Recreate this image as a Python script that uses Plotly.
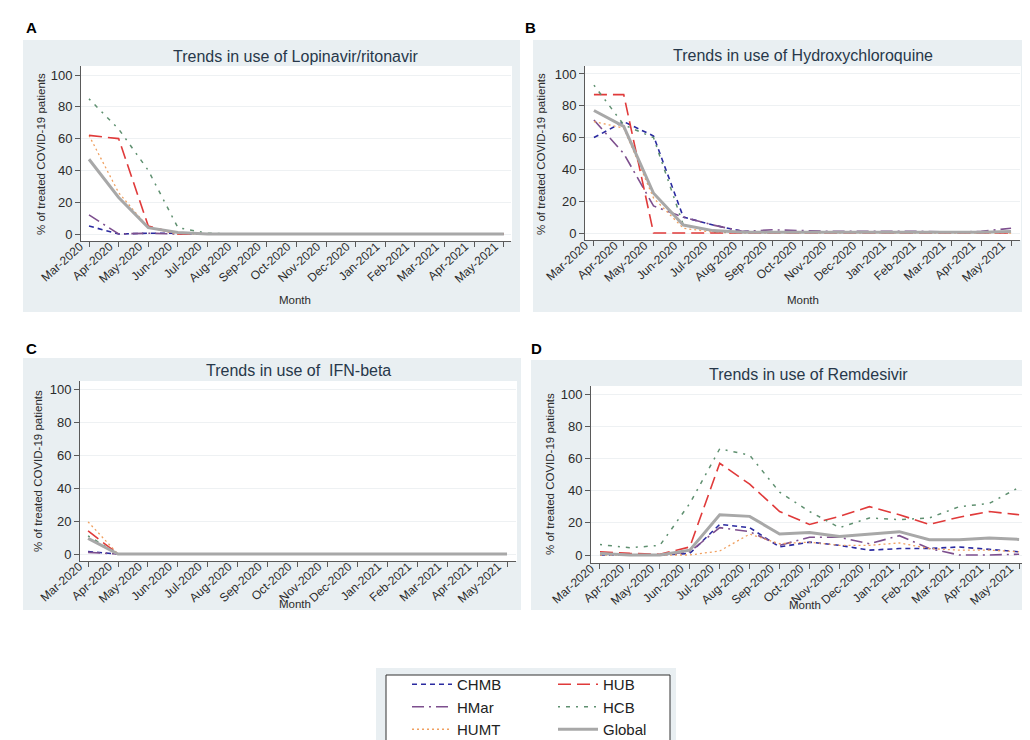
import plotly.graph_objects as go

W, H = 1030, 740

months = ["Mar-2020", "Apr-2020", "May-2020", "Jun-2020", "Jul-2020", "Aug-2020", "Sep-2020",
          "Oct-2020", "Nov-2020", "Dec-2020", "Jan-2021", "Feb-2021", "Mar-2021", "Apr-2021", "May-2021"]

series_names = ["CHMB", "HMar", "HUMT", "HUB", "HCB", "Global"]

# Panel A: Lopinavir/ritonavir
lop_chmb = [5, 0, 0.5, 0.5, 0, 0, 0, 0, 0, 0, 0, 0, 0, 0, 0]
lop_hmar = [12, 0, 0.5, 0, 0, 0, 0, 0, 0, 0, 0, 0, 0, 0, 0]
lop_humt = [62, 26, 4, 0, 0, 0, 0, 0, 0, 0, 0, 0, 0, 0, 0]
lop_hub = [62, 60, 5, 0, 0, 0, 0, 0, 0, 0, 0, 0, 0, 0, 0]
lop_hcb = [85, 66, 40, 4, 0.5, 0, 0, 0, 0, 0, 0, 0, 0, 0, 0]
lop_global = [47, 23, 4, 1, 0, 0, 0, 0, 0, 0, 0, 0, 0, 0, 0]

# Panel B: Hydroxychloroquine
hcq_chmb = [60, 70, 61, 10, 5, 1, 0.5, 0.5, 0.5, 0.5, 0.5, 0.5, 0.5, 0.5, 0.5]
hcq_hmar = [71, 50, 17, 10, 5, 1, 2, 1.5, 1, 1, 1, 1, 0.5, 1, 3]
hcq_humt = [70, 66, 22, 3, 0.5, 0, 0, 0, 0, 0, 0, 0, 0, 0, 0]
hcq_hub = [87, 87, 0, 0, 0, 0, 0, 0, 0, 0, 0, 0, 0, 0, 0]
hcq_hcb = [93, 68, 60, 5, 1, 0.5, 0.5, 0.5, 0.5, 0.5, 0.5, 0.5, 0.5, 0.5, 0.5]
hcq_global = [77, 67, 25, 5, 1.5, 0.5, 0.5, 0.5, 0.5, 0.5, 0.5, 0.5, 0.5, 0.5, 1]

# Panel C: IFN-beta
ifn_chmb = [1.5, 0, 0, 0, 0, 0, 0, 0, 0, 0, 0, 0, 0, 0, 0]
ifn_hmar = [1, 0, 0, 0, 0, 0, 0, 0, 0, 0, 0, 0, 0, 0, 0]
ifn_humt = [19.5, 0, 0, 0, 0, 0, 0, 0, 0, 0, 0, 0, 0, 0, 0]
ifn_hub = [14, 0, 0, 0, 0, 0, 0, 0, 0, 0, 0, 0, 0, 0, 0]
ifn_hcb = [11, 0, 0, 0, 0, 0, 0, 0, 0, 0, 0, 0, 0, 0, 0]
ifn_global = [9.5, 0, 0, 0, 0, 0, 0, 0, 0, 0, 0, 0, 0, 0, 0]

# Panel D: Remdesivir
rem_chmb = [0, 0, 0, 1, 19, 17, 5, 8, 6, 3, 4, 4, 5, 3.5, 2]
rem_hmar = [1, 0, 0, 2, 17, 14.5, 6, 11, 11, 7, 12, 4, 0, 0, 0.5]
rem_humt = [0, 0, 0, 0, 2.5, 13, 7, 8, 6, 6, 7.5, 4, 3, 3, 2]
rem_hub = [2, 1, 0.5, 5, 57, 44, 27, 19, 24, 30, 25, 19, 23.5, 27, 25]
rem_hcb = [6.5, 4.5, 6, 32, 66, 62, 39, 27, 17, 23, 22, 23, 30, 32, 42]
rem_global = [1, 0, 0, 3, 25, 24, 13, 14, 11.5, 13, 14.5, 9.5, 9.5, 10.5, 9.7]

panels = [
    ("Trends in use of Lopinavir/ritonavir", [lop_chmb, lop_hmar, lop_humt, lop_hub, lop_hcb, lop_global]),
    ("Trends in use of Hydroxychloroquine", [hcq_chmb, hcq_hmar, hcq_humt, hcq_hub, hcq_hcb, hcq_global]),
    ("Trends in use of  IFN-beta", [ifn_chmb, ifn_hmar, ifn_humt, ifn_hub, ifn_hcb, ifn_global]),
    ("Trends in use of Remdesivir", [rem_chmb, rem_hmar, rem_humt, rem_hub, rem_hcb, rem_global]),
]
panel_letters = ["A", "B", "C", "D"]

styles = {
    "CHMB": dict(color="#2a2aa0", dash="5px,4px", width=1.6),
    "HMar": dict(color="#7d4f8e", dash="12px,5px,2px,5px", width=1.6),
    "HUMT": dict(color="#f0a060", dash="2px,3px", width=1.3),
    "HUB": dict(color="#e03a3a", dash="13px,6px", width=1.6),
    "HCB": dict(color="#5f9070", dash="2px,6px,4px,6px", width=1.5),
    "Global": dict(color="#a8a8a8", dash="solid", width=3),
}
legend_of = {"CHMB": "legend", "HMar": "legend", "HUMT": "legend",
             "HUB": "legend2", "HCB": "legend2", "Global": "legend2"}

# layout geometry (pixels)
plot_px = [  # x0, x1, ytop, ybottom
    (73, 503, 58, 233),
    (577, 1012, 58, 232),
    (72, 508, 373, 553),
    (583, 1018, 378, 555),
]
xranges = [(-0.27, 14.24), (-0.30, 14.30), (-0.27, 14.30), (-0.30, 14.23)]
yranges = [(-4.4, 105.66), (-4.4, 105.0), (-4.24, 104.85), (-4.97, 104.97)]
bg_px = [(15, 512, 32, 304), (525, 1015, 32, 304), (15, 513, 350, 602), (523, 1025, 352, 602)]
title_pos = [(288, 48), (795, 47), (290, 362), (800, 366)]
letter_pos = [(23, 20), (522, 20), (23, 340), (528, 340)]
month_pos = [(287, 292), (795, 292), (287, 596), (797, 597)]
ytitle_pos = [(33, 146), (533, 146), (30, 463), (542, 466)]

def px_x(p):
    return p / W

def px_y(p):
    return 1 - p / H

BG = "#e9eff2"
fig = go.Figure()
shapes = []
annotations = []

for i, (title, data) in enumerate(panels):
    n = "" if i == 0 else str(i + 1)
    xa, ya = "x" + n, "y" + n
    for name, vals in zip(series_names, data):
        st = styles[name]
        fig.add_trace(go.Scatter(
            x=months, y=vals, mode="lines", name=name,
            line=dict(color=st["color"], dash=st["dash"], width=st["width"]),
            xaxis=xa, yaxis=ya,
            showlegend=(i == 0), legend=legend_of[name],
        ))
    x0, x1, yt, yb = plot_px[i]
    fig.layout["xaxis" + n] = dict(
        domain=[px_x(x0), px_x(x1)], anchor=ya, type="category", automargin=False,
        range=list(xranges[i]), showgrid=False, zeroline=False,
        showline=True, linecolor="#5a5a5a", linewidth=1,
        ticks="outside", ticklen=5, tickcolor="#5a5a5a", tickangle=-42,
        ticklabelstandoff=-12, ticklabelshift=-9,
        tickfont=dict(family="Liberation Sans, Arial", size=12, color="#2b2b2b"),
    )
    fig.layout["yaxis" + n] = dict(
        domain=[px_y(yb), px_y(yt)], anchor=xa, automargin=False,
        range=list(yranges[i]), tickvals=[0, 20, 40, 60, 80, 100],
        showgrid=True, gridcolor="#eef1f3", gridwidth=1, zeroline=False,
        showline=True, linecolor="#5a5a5a", linewidth=1,
        ticks="outside", ticklen=5, tickcolor="#5a5a5a",
        tickfont=dict(family="Liberation Sans, Arial", size=13, color="#2b2b2b"),
    )
    bx0, bx1, by0, by1 = bg_px[i]
    shapes.append(dict(type="rect", xref="paper", yref="paper", layer="below",
                       x0=px_x(bx0), x1=px_x(bx1), y0=px_y(by1), y1=px_y(by0),
                       fillcolor=BG, line=dict(width=0)))
    shapes.append(dict(type="rect", xref="paper", yref="paper", layer="below",
                       x0=px_x(x0), x1=px_x(x1 + 1), y0=px_y(yb), y1=px_y(yt),
                       fillcolor="white", line=dict(width=0)))
    tx, ty = title_pos[i]
    annotations.append(dict(text=title, x=px_x(tx), y=px_y(ty), xref="paper", yref="paper",
                            showarrow=False, xanchor="center", yanchor="middle",
                            font=dict(family="Liberation Sans, Arial", size=16, color="#27384a")))
    lx, ly = letter_pos[i]
    annotations.append(dict(text="<b>" + panel_letters[i] + "</b>", x=px_x(lx), y=px_y(ly),
                            xref="paper", yref="paper", showarrow=False,
                            xanchor="center", yanchor="middle",
                            font=dict(family="Liberation Sans, Arial", size=15, color="black")))
    mx, my = month_pos[i]
    annotations.append(dict(text="Month", x=px_x(mx), y=px_y(my), xref="paper", yref="paper",
                            showarrow=False, xanchor="center", yanchor="middle",
                            font=dict(family="Liberation Sans, Arial", size=11.5, color="#2b2b2b")))
    yx, yy = ytitle_pos[i]
    annotations.append(dict(text="% of treated COVID-19 patients", x=px_x(yx), y=px_y(yy),
                            xref="paper", yref="paper", showarrow=False, textangle=-90,
                            xanchor="center", yanchor="middle",
                            font=dict(family="Liberation Sans, Arial", size=11.5, color="#2b2b2b")))

# legend frame
shapes.append(dict(type="rect", xref="paper", yref="paper", layer="below",
                   x0=px_x(368), x1=px_x(668), y0=px_y(745), y1=px_y(660),
                   fillcolor=BG, line=dict(width=0)))
shapes.append(dict(type="rect", xref="paper", yref="paper", layer="below",
                   x0=px_x(378), x1=px_x(662), y0=px_y(745), y1=px_y(667),
                   fillcolor="white", line=dict(color="#333333", width=1)))

leg_font = dict(family="Liberation Sans, Arial", size=15, color="#222222")
fig.update_layout(
    width=W, height=H, margin=dict(l=0, r=0, t=0, b=0, autoexpand=False),
    paper_bgcolor="white", plot_bgcolor="rgba(0,0,0,0)",
    shapes=shapes, annotations=annotations,
    legend=dict(x=px_x(399), y=px_y(660), xanchor="left", yanchor="top",
                bgcolor="rgba(0,0,0,0)", font=leg_font, tracegroupgap=0,
                itemwidth=40),
    legend2=dict(x=px_x(545), y=px_y(660), xanchor="left", yanchor="top",
                 bgcolor="rgba(0,0,0,0)", font=leg_font, tracegroupgap=0,
                 itemwidth=40),
)

fig.write_html("out.html")
